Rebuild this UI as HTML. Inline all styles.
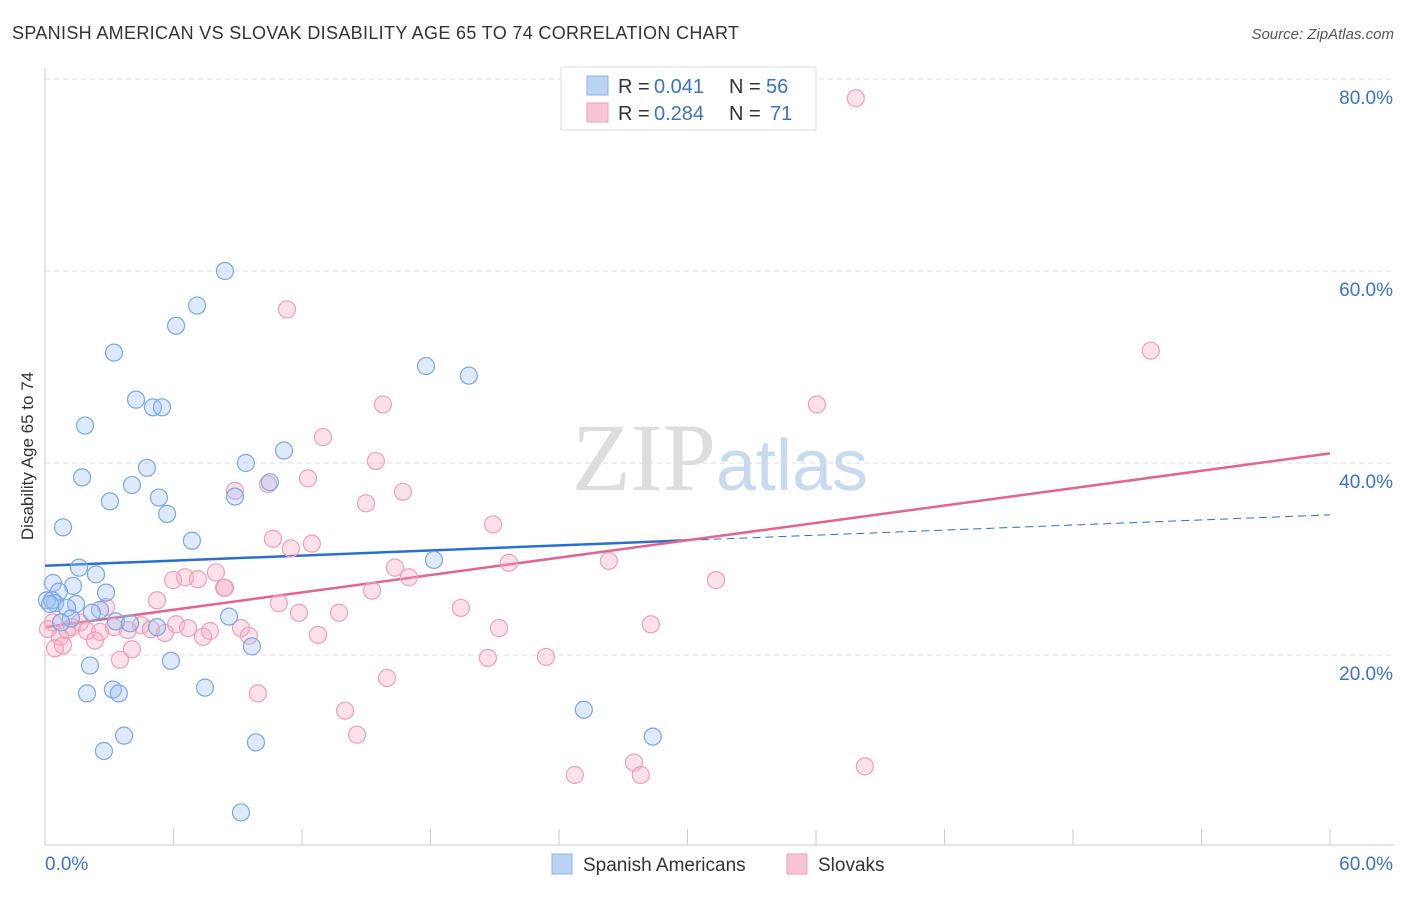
<!DOCTYPE html>
<html><head><meta charset="utf-8"><style>
body{margin:0;background:#fff;font-family:"Liberation Sans",sans-serif;}
</style></head><body>
<svg id="chart" width="1406" height="892" xmlns="http://www.w3.org/2000/svg" font-family="Liberation Sans, sans-serif">
<text x="12" y="39" font-size="18" fill="#333" textLength="727">SPANISH AMERICAN VS SLOVAK DISABILITY AGE 65 TO 74 CORRELATION CHART</text>
<text x="1394" y="39" font-size="15" fill="#555" text-anchor="end" font-style="italic">Source: ZipAtlas.com</text>
<text transform="translate(33,456) rotate(-90)" font-size="17" fill="#333" text-anchor="middle">Disability Age 65 to 74</text>
<text x="720" y="490" font-size="96" text-anchor="middle" fill="#ddd" font-family="Liberation Serif, serif">ZIP<tspan fill="#c8daf0" font-family="Liberation Sans, sans-serif" font-size="72">atlas</tspan></text>
<g id="grid"></g><g id="axes"></g><g id="lines"></g><g id="pts"></g>
<g>
<rect x="561" y="67" width="255" height="63" fill="#fff" stroke="#ddd"/>
<rect x="587" y="76" width="21" height="19" fill="#b8d3f5" stroke="#8ab3e8"/>
<rect x="587" y="103" width="21" height="19" fill="#f8c4d3" stroke="#eea3ba"/>
<text x="618" y="93" font-size="20" fill="#333">R =</text>
<text x="654" y="93" font-size="20" fill="#3a72c8">0.041</text>
<text x="729" y="93" font-size="20" fill="#333">N =</text>
<text x="766" y="93" font-size="20" fill="#3a72c8">56</text>
<text x="618" y="120" font-size="20" fill="#333">R =</text>
<text x="654" y="120" font-size="20" fill="#3a72c8">0.284</text>
<text x="729" y="120" font-size="20" fill="#333">N =</text>
<text x="770" y="120" font-size="20" fill="#3a72c8">71</text>
</g>
<g>
<rect x="552" y="854" width="20" height="20" fill="#b8d3f5" stroke="#8ab3e8"/>
<text x="583" y="871" font-size="19" fill="#333">Spanish Americans</text>
<rect x="787" y="854" width="20" height="20" fill="#f8c4d3" stroke="#eea3ba"/>
<text x="818" y="871" font-size="19" fill="#333">Slovaks</text>
</g>
</svg>
<script>
const blueX=[8.40,7.10,6.12,3.22,17.79,19.79,4.25,5.04,5.46,1.87,11.16,9.38,4.76,1.73,10.50,4.06,8.87,5.32,3.03,5.70,0.84,6.86,18.16,1.59,2.38,0.37,1.31,0.65,2.85,0.09,0.47,1.45,1.03,2.57,2.19,1.21,0.75,3.31,3.97,5.23,8.59,9.66,5.88,2.10,7.47,1.96,3.17,3.45,3.69,2.75,9.85,25.16,28.38,9.15,0.33,0.23];
const blueY=[60.0,56.4,54.3,51.5,50.1,49.1,46.6,45.8,45.8,43.9,41.3,40.0,39.5,38.5,38.0,37.7,36.5,36.4,36.0,34.7,33.3,31.9,29.9,29.1,28.4,27.5,27.2,26.6,26.5,25.7,25.4,25.3,24.9,24.7,24.4,23.8,23.4,23.5,23.3,22.9,24.0,20.9,19.4,18.9,16.6,16.0,16.4,16.0,11.6,10.0,10.9,14.3,11.5,3.6,25.7,25.3];
const pinkX=[37.86,11.30,51.63,15.78,36.04,12.98,15.45,12.28,16.71,8.87,10.41,14.99,20.92,10.64,12.46,11.48,16.34,16.99,21.66,26.33,31.33,6.54,5.98,7.14,7.98,8.36,5.23,2.85,10.92,11.86,13.73,15.27,19.42,0.37,1.26,1.96,0.70,2.57,3.22,4.48,3.87,4.95,6.12,6.68,7.70,9.15,5.60,7.38,9.52,12.75,21.20,28.29,0.47,2.33,0.84,4.06,3.50,20.68,23.39,9.94,15.97,14.01,14.57,24.74,27.50,27.82,38.28,1.63,0.14,8.40,1.03];
const pinkY=[78.0,56.0,51.7,46.1,46.1,42.7,40.2,38.4,37.0,37.1,37.8,35.8,33.6,32.1,31.6,31.1,29.1,28.1,29.6,29.8,27.8,28.1,27.8,27.9,28.6,27.0,25.7,25.0,25.4,24.4,24.4,26.7,24.9,23.4,22.9,22.5,21.9,22.4,22.9,23.1,22.6,22.7,23.2,22.8,22.5,22.8,22.3,21.9,22.0,22.1,22.8,23.2,20.7,21.5,21.0,20.6,19.5,19.7,19.8,16.0,17.6,14.2,11.7,7.5,8.8,7.5,8.4,23.4,22.7,27.0,22.6];
const yTicks=[20,40,60,80];
const yTickLabels=["20.0%","40.0%","60.0%","80.0%"];
const xTicks=[0,6,12,18,24,30,36,42,48,54,60];
const blueTrend=[29.3,34.6];
const pinkTrend=[22.9,41.0];
const blueSolidEnd=30;
const NS="http://www.w3.org/2000/svg";
const X=v=>45+v*(1285/60), Y=v=>847-v*9.6;
function mk(t,a,p){const e=document.createElementNS(NS,t);for(const k in a)e.setAttribute(k,a[k]);p.appendChild(e);return e;}
const grid=document.getElementById('grid'),axes=document.getElementById('axes'),lines=document.getElementById('lines'),pts=document.getElementById('pts');
yTicks.forEach((t,i)=>{
 const g=mk('line',{x1:45,x2:1394,y1:Y(t),y2:Y(t),stroke:'#ddd','stroke-dasharray':'5,4'},grid);
 
 
 const l=mk('text',{x:1393,y:Y(t)+25,'font-size':19,fill:'#3a72c8','text-anchor':'end'},axes);
 l.textContent=yTickLabels[i];
 
 
});
mk('line',{x1:45,x2:45,y1:68,y2:845,stroke:'#ccc'},axes);
mk('line',{x1:45,x2:1394,y1:845,y2:845,stroke:'#ccc'},axes);
xTicks.forEach(t=>{const k=mk('line',{x1:X(t),x2:X(t),y1:829,y2:845,stroke:'#ccc'},axes);
 
 });
const x0=mk('text',{x:45,y:870,'font-size':19,fill:'#3a72c8'},axes);x0.textContent='0.0%';


const x1=mk('text',{x:1393,y:870,'font-size':19,fill:'#3a72c8','text-anchor':'end'},axes);x1.textContent='60.0%';


const bAt=x=>blueTrend[0]+(blueTrend[1]-blueTrend[0])*x/60;
pinkX.forEach((x,i)=>{const c=mk('circle',{cx:X(x),cy:Y(pinkY[i]),r:8.5,fill:'rgba(246,170,195,0.35)',stroke:'#eea0b8','stroke-width':1.2},pts);
 
 });
blueX.forEach((x,i)=>{const c=mk('circle',{cx:X(x),cy:Y(blueY[i]),r:8.5,fill:'rgba(160,196,240,0.35)',stroke:'#7aa8e0','stroke-width':1.2},pts);
 
 });
const bl=mk('line',{x1:X(0),y1:Y(bAt(0)),x2:X(blueSolidEnd),y2:Y(bAt(blueSolidEnd)),stroke:'#2a6fd0','stroke-width':2.5},lines);


const bd=mk('line',{x1:X(blueSolidEnd),y1:Y(bAt(blueSolidEnd)),x2:X(60),y2:Y(bAt(60)),stroke:'#2a6fd0','stroke-width':1,'stroke-dasharray':'8,5'},lines);


const pl=mk('line',{x1:X(0),y1:Y(pinkTrend[0]),x2:X(60),y2:Y(pinkTrend[1]),stroke:'#e3648e','stroke-width':2.5},lines);


</script>
</body></html>
